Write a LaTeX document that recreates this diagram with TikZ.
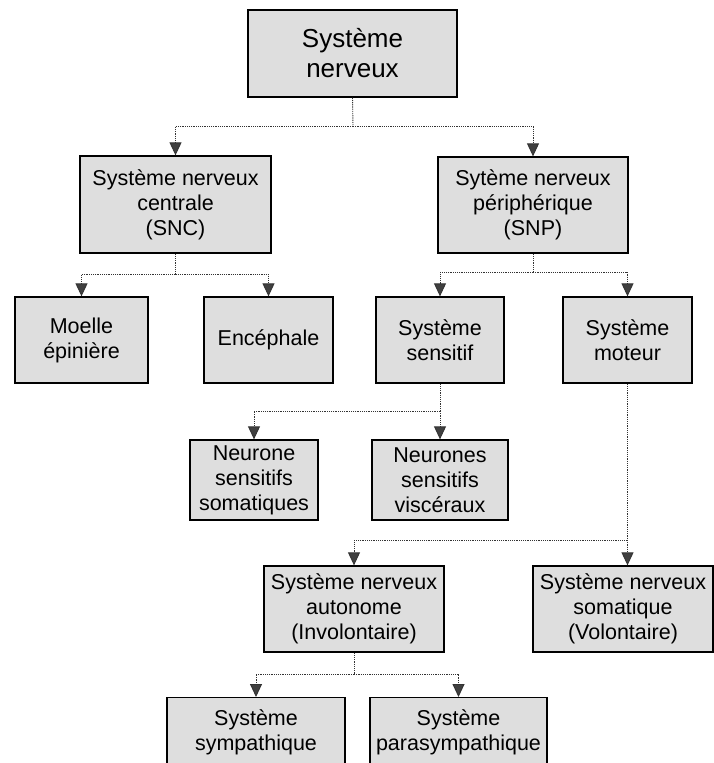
\documentclass[tikz,border=0pt]{standalone}
\usepackage{fontspec}
\setmainfont{Liberation Sans}
\usetikzlibrary{arrows.meta}
\begin{document}
\begin{tikzpicture}[x=1bp,y=-1bp,
  box/.style={draw=black, line width=1.3bp, fill=black!13, align=center, inner sep=0pt,
    font=\fontsize{21.5bp}{25bp}\selectfont},
  conn/.style={draw=black!80, line width=0.9bp, dash pattern=on 1.2bp off 1bp},
  arr/.style={conn, -{Triangle[width=12bp,length=13bp,fill=black!75]}}
]
\useasboundingbox (0,0) rectangle (714,763);
\clip (0,0) rectangle (714,763);
\fill[white] (0,0) rectangle (714,763);

% boxes
\node[box, minimum width=209bp, minimum height=87bp, font=\fontsize{26bp}{30bp}\selectfont] (top) at (352.5,53.5) {Système\\nerveux};
\node[box, minimum width=191bp, minimum height=97bp] (snc) at (175.5,204.5) {Système nerveux\\centrale\\(SNC)};
\node[box, minimum width=190bp, minimum height=96bp] (snp) at (533,205) {Sytème nerveux\\périphérique\\(SNP)};
\node[box, minimum width=133bp, minimum height=86bp] (moelle) at (81.5,340) {Moelle\\épinière};
\node[box, minimum width=129bp, minimum height=86bp] (enceph) at (268.5,340) {Encéphale};
\node[box, minimum width=128bp, minimum height=86bp] (sens) at (440,340) {Système\\sensitif};
\node[box, minimum width=129bp, minimum height=86bp] (mot) at (627.5,340) {Système\\moteur};
\node[box, minimum width=128bp, minimum height=80bp] (nsom) at (254,480) {Neurone\\sensitifs\\somatiques};
\node[box, minimum width=136bp, minimum height=80bp] (nvis) at (440,480) {Neurones\\sensitifs\\viscéraux};
\node[box, minimum width=180bp, minimum height=86bp] (auto) at (354,609) {Système nerveux\\autonome\\(Involontaire)};
\node[box, minimum width=180bp, minimum height=86bp] (somat) at (623,609) {Système nerveux\\somatique\\(Volontaire)};
\node[box, minimum width=178bp, minimum height=70bp, anchor=north] (symp) at (256,697) {Système\\sympathique};
\node[box, minimum width=177bp, minimum height=70bp, anchor=north] (para) at (458.5,697) {Système\\parasympathique};

% junctions
\coordinate (j0) at (353,126);
\coordinate (j1) at (175.5,274);
\coordinate (j2) at (533,272);
\coordinate (j3) at (440,411);
\coordinate (jm) at (627.5,540);
\coordinate (j5) at (354,674);

% connectors
\draw[conn] (top.south) -- (j0);
\draw[arr] (j0) -| (snc.north);
\draw[arr] (j0) -| (snp.north);

\draw[conn] (snc.south) -- (j1);
\draw[arr] (j1) -| (moelle.north);
\draw[arr] (j1) -| (enceph.north);

\draw[conn] (snp.south) -- (j2);
\draw[arr] (j2) -| (sens.north);
\draw[arr] (j2) -| (mot.north);

\draw[conn] (sens.south) -- (j3);
\draw[arr] (j3) -| (nsom.north);
\draw[arr] (j3) -- (nvis.north);

\draw[conn] (mot.south) -- (jm);
\draw[arr] (jm) -| (auto.north);
\draw[arr] (jm) -- (jm |- somat.north);

\draw[conn] (auto.south) -- (j5);
\draw[arr] (j5) -| (symp.north);
\draw[arr] (j5) -| (para.north);
\end{tikzpicture}
\end{document}
